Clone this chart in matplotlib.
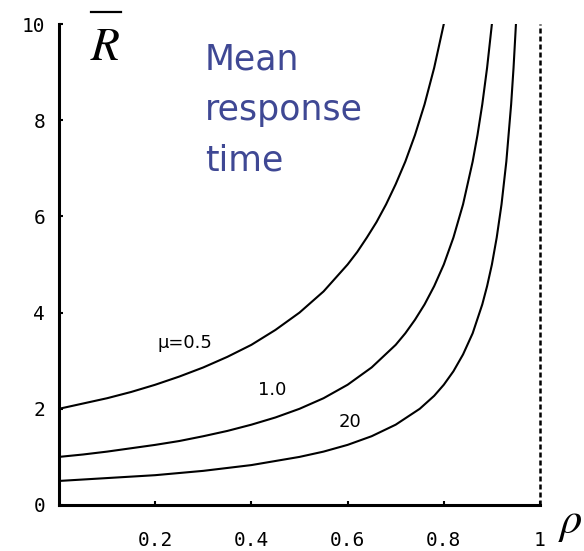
"""Mean response time R vs utilisation rho for three service rates."""

import matplotlib.pyplot as plt
from matplotlib.lines import Line2D

plt.rcParams["mathtext.fontset"] = "stix"

# values
rho_05 = [0.0, 0.05, 0.1, 0.15, 0.2, 0.25, 0.3, 0.35, 0.4, 0.45, 0.5, 0.55,
          0.6, 0.62, 0.64, 0.66, 0.68, 0.7, 0.72, 0.74, 0.76, 0.78, 0.8]
r_05 = [2.00, 2.11, 2.22, 2.35, 2.50, 2.67, 2.86, 3.08, 3.33, 3.64, 4.00, 4.44,
        5.00, 5.26, 5.56, 5.88, 6.25, 6.67, 7.14, 7.69, 8.33, 9.09, 10.0]

rho_10 = [0.0, 0.05, 0.1, 0.15, 0.2, 0.25, 0.3, 0.35, 0.4, 0.45, 0.5, 0.55,
          0.6, 0.65, 0.7, 0.72, 0.74, 0.76, 0.78, 0.8, 0.82, 0.84, 0.86,
          0.87, 0.88, 0.89, 0.9]
r_10 = [1.00, 1.05, 1.11, 1.18, 1.25, 1.33, 1.43, 1.54, 1.67, 1.82, 2.00, 2.22,
        2.50, 2.86, 3.33, 3.57, 3.85, 4.17, 4.55, 5.00, 5.56, 6.25, 7.14,
        7.69, 8.33, 9.09, 10.0]

rho_20 = [0.0, 0.1, 0.2, 0.3, 0.4, 0.5, 0.55, 0.6, 0.65, 0.7, 0.75, 0.78,
          0.8, 0.82, 0.84, 0.86, 0.88, 0.89, 0.9, 0.91, 0.92, 0.93, 0.94,
          0.945, 0.95]
r_20 = [0.50, 0.56, 0.62, 0.71, 0.83, 1.00, 1.11, 1.25, 1.43, 1.67, 2.00, 2.27,
        2.50, 2.78, 3.13, 3.57, 4.17, 4.55, 5.00, 5.56, 6.25, 7.14, 8.33,
        9.09, 10.0]

x_ticks = [0.2, 0.4, 0.6, 0.8, 1.0]
x_ticklabels = ["0.2", "0.4", "0.6", "0.8", "1"]
y_ticks = [0, 2, 4, 6, 8, 10]

curve_labels = ["\u03bc=0.5", "1.0", "20"]
label_pos = [(0.2625, 3.37), (0.444, 2.39), (0.604, 1.73)]

title_lines = ["Mean", "response", "time"]

W, H = 584, 551
fig = plt.figure(figsize=(W / 100, H / 100), dpi=100)
ax = fig.add_axes([59 / W, 46 / H, 481 / W, 481 / H])

for xs, ys in [(rho_05, r_05), (rho_10, r_10), (rho_20, r_20)]:
    ax.plot(xs, ys, color="black", lw=1.5, solid_joinstyle="round")

ax.axvline(1.0, color="black", lw=1.8, ls=(0, (2.0, 1.2)), clip_on=False)

for txt, (x, y) in zip(curve_labels, label_pos):
    ax.text(x, y, txt, fontsize=13, ha="center", va="center", family="DejaVu Sans")

ax.set_xlim(0, 1)
ax.set_ylim(0, 10)
ax.set_xticks(x_ticks)
ax.set_xticklabels(x_ticklabels)
ax.set_yticks(y_ticks)
for side in ("top", "right"):
    ax.spines[side].set_visible(False)
for side in ("left", "bottom"):
    ax.spines[side].set_linewidth(2.2)
ax.tick_params(axis="both", direction="in", length=3, width=1.5,
               labelsize=14)
ax.tick_params(axis="x", pad=19)
ax.tick_params(axis="y", pad=10)
for lab in ax.get_xticklabels() + ax.get_yticklabels():
    lab.set_family("DejaVu Sans Mono")

# axis symbols
fig.text(90 / W, 1 - 60 / H, r"$R$", fontsize=34, ha="left", va="baseline")
fig.add_artist(Line2D([91 / W, 121 / W], [1 - 12 / H, 1 - 12 / H],
                      color="black", lw=1.6))
fig.text(558 / W, 1 - 533 / H, r"$\rho$", fontsize=32, ha="left", va="baseline")

for i, line in enumerate(title_lines):
    fig.text(205 / W, 1 - (70 + 50 * i) / H, line, fontsize=25,
             color="#3f4894", ha="left", va="baseline", family="DejaVu Sans")

fig.savefig("out.png", dpi=100)
